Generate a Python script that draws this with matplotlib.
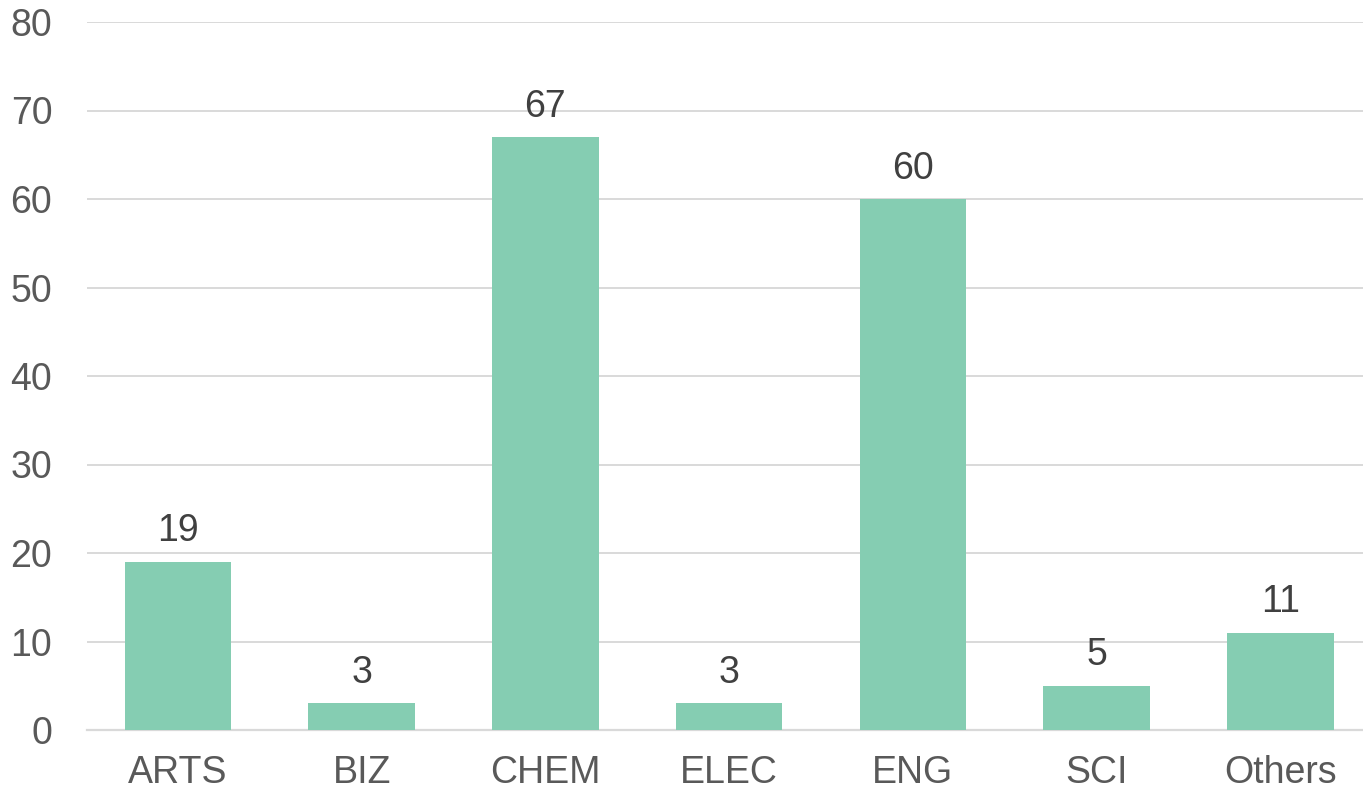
import numpy as np
import matplotlib.pyplot as plt

plt.rcParams['font.family'] = ['Liberation Sans', 'DejaVu Sans']

departments = ["ARTS", "BIZ", "CHEM", "ELEC", "ENG", "SCI", "Others"]
counts = [19, 3, 67, 3, 60, 5, 11]

bar_color = "#85CDB2"
grid_color = "#D9D9D9"

fig = plt.figure(figsize=(13.63, 7.90), dpi=100)
ax = fig.add_axes([87 / 1363, 1 - 730 / 790, 1 - 87 / 1363, (730 - 22) / 790])

x = np.arange(len(departments))
bars = ax.bar(x, counts, width=0.58, color=bar_color, zorder=3)

for xi, v in zip(x, counts):
    ax.text(xi, v + 1.4, str(v), ha="center", va="bottom",
            fontsize=27, color="#404040")

ax.set_ylim(0, 80)
ax.set_yticks(range(0, 81, 10))
ax.set_xlim(-0.495, 6.45)
ax.set_xticks(x)
ax.set_xticklabels(departments)

ax.yaxis.grid(True, color=grid_color, linewidth=1.4, zorder=0)
ax.tick_params(axis="both", length=0, labelsize=27, labelcolor="#595959")
ax.tick_params(axis="y", pad=25)
ax.tick_params(axis="x", pad=18)

for side in ["top", "right", "left"]:
    ax.spines[side].set_visible(False)
ax.spines["bottom"].set_color(grid_color)
ax.spines["bottom"].set_linewidth(1.6)

fig.savefig("out.png", dpi=100)
